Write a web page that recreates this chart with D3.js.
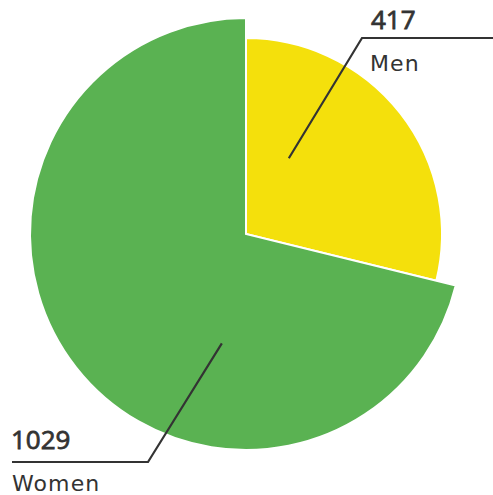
<!DOCTYPE html>
<html>
<head>
<meta charset="utf-8">
<script src="https://cdn.jsdelivr.net/npm/d3@7"></script>
<style>
  html, body { margin: 0; padding: 0; background: #fff; }
  svg { display: block; }
  text { fill: #333; }
  .num { font-family: "Open Sans", "Noto Sans", sans-serif; font-size: 26px; font-weight: 400;
         stroke: #333; stroke-width: 0.8px; }
  .name { font-family: "DejaVu Sans", sans-serif; font-size: 22px; letter-spacing: 1.1px; }
</style>
</head>
<body>
<svg id="chart" width="493" height="495"></svg>
<script>
// Survey respondents by gender
const categories = ["Men", "Women"];
const values = [417, 1029];
const colors = ["#F4E00C", "#5AB252"];

const W = 493, H = 495;
const cx = 246, cy = 234;
const outerR = { Men: 196, Women: 216 };

const svg = d3.select("#chart");
const g = svg.append("g").attr("transform", `translate(${cx},${cy})`);

const data = categories.map((c, i) => ({ name: c, value: values[i], color: colors[i] }));
const pie = d3.pie().sort(null).value(d => d.value);
const arcs = pie(data);

g.selectAll("path.slice")
  .data(arcs)
  .join("path")
  .attr("class", "slice")
  .attr("fill", d => d.data.color)
  .attr("stroke", "#fff")
  .attr("stroke-width", 2)
  .attr("stroke-linejoin", "miter")
  .attr("d", d => d3.arc().innerRadius(0).outerRadius(outerR[d.data.name])(d));

// Leader lines: anchor inside the slice, elbow, then horizontal run to the label
const labelCfg = {
  Men:   { frac: 0.284, r: 87,  elbow: [116, -196], end: [W - cx, -196],
           numPos: [125, -205], namePos: [124, -163] },
  Women: { frac: 0.346, r: 112, elbow: [-98, 228],  end: [12 - cx, 228],
           numPos: [11 - cx, 215], namePos: [12 - cx, 257] }
};

arcs.forEach(d => {
  const cfg = labelCfg[d.data.name];
  const a = d.startAngle + (d.endAngle - d.startAngle) * cfg.frac;
  const p = d3.pointRadial(a, cfg.r);
  g.append("path")
    .attr("d", d3.line()([p, cfg.elbow, cfg.end]))
    .attr("fill", "none")
    .attr("stroke", "#333")
    .attr("stroke-width", 2.2);
  g.append("text")
    .attr("class", "num")
    .attr("x", cfg.numPos[0]).attr("y", cfg.numPos[1])
    .text(d.data.value);
  g.append("text")
    .attr("class", "name")
    .attr("x", cfg.namePos[0]).attr("y", cfg.namePos[1])
    .text(d.data.name);
});
</script>
</body>
</html>
